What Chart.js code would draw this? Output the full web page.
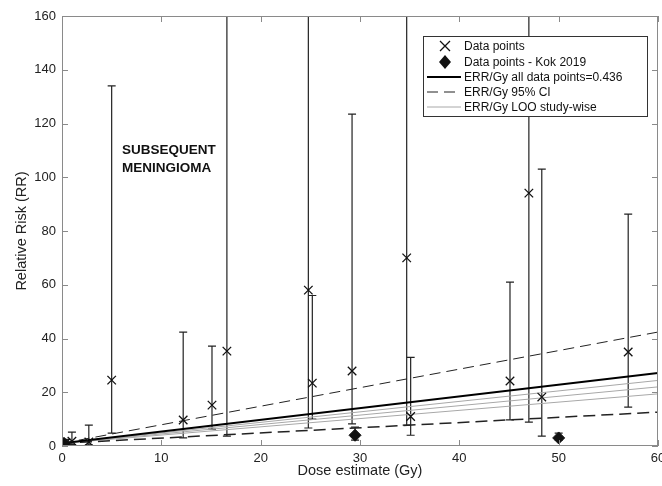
<!DOCTYPE html>
<html>
<head>
<meta charset="utf-8">
<script src="https://cdn.jsdelivr.net/npm/chart.js@4/dist/chart.umd.min.js"></script>
<style>
  html,body{margin:0;padding:0;background:#fff;overflow:hidden;}
  #wrap{width:662px;height:486px;}
</style>
</head>
<body>
<div id="wrap"><canvas id="c" width="662" height="486"></canvas></div>
<script>
// data
const doseX  = [0.4, 1.0, 2.7, 5.0, 12.2, 15.1, 16.6, 24.8, 25.2, 29.2, 34.7, 35.1, 45.1, 47.0, 48.3, 57.0];
const rrVal  = [1.2, 1.8, 1.5, 24.5, 9.7, 15.2, 35.3, 58.0, 23.4, 27.9, 70.0, 11.0, 24.2, 94.1, 18.2, 35.0];
const rrLow  = [0.6, 0.5, 0.4, 4.8, 3.0, 6.3, 3.7, 6.7, 10.0, 8.2, 7.8, 4.0, 9.7, 8.9, 3.7, 14.5];
const rrHigh = [2.5, 5.2, 7.8, 134, 42.4, 37.2, 250, 250, 56.0, 123.5, 250, 33.0, 61.0, 250, 103, 86.3];

const kokX    = [0.2, 29.5, 50.0];
const kokVal  = [1.0, 4.0, 3.0];
const kokLow  = [1.0, 2.2, 2.2];
const kokHigh = [1.0, 7.0, 4.8];

// straight lines, RR at dose 0 and dose 60
const lineX    = [0, 60];
const fitAll   = [1, 27.2];   // ERR/Gy = 0.436
const ciUpper  = [1, 42.4];
const ciLower  = [1, 12.6];
const looLines = [[1, 24.4], [1, 22.0], [1, 19.4]];

const xTicks = [0, 10, 20, 30, 40, 50, 60];
const yTicks = [0, 20, 40, 60, 80, 100, 120, 140, 160];

const FONT = 'Liberation Sans, Arial, Helvetica, sans-serif';
const AXIS = '#8a8a8a';
const PLOT_RIGHT = 658;

function pts(xs, ys){ return xs.map((x,i)=>({x:x, y:ys[i]})); }

const datasets = [
  {label:'Data points', type:'scatter', data:pts(doseX, rrVal), pointStyle:'crossRot', radius:6, borderColor:'#111', borderWidth:1.3, backgroundColor:'#111', order:1},
  {label:'Data points - Kok 2019', type:'scatter', data:pts(kokX, kokVal), pointStyle:'rectRot', radius:6, borderColor:'#111', backgroundColor:'#111', order:0},
  {label:'ERR/Gy all data points=0.436', type:'line', data:pts(lineX, fitAll), borderColor:'#000', borderWidth:2, pointRadius:0, order:2},
  {label:'ERR/Gy 95% CI', type:'line', data:pts(lineX, ciUpper), borderColor:'#222', borderWidth:1, borderDash:[11,6], pointRadius:0, order:3},
  {label:'ERR/Gy 95% CI low', type:'line', data:pts(lineX, ciLower), borderColor:'#222', borderWidth:1.5, borderDash:[12,6], pointRadius:0, order:3}
];
looLines.forEach((l,i)=>datasets.push({label:'ERR/Gy LOO study-wise '+i, type:'line', data:pts(lineX, l), borderColor:'#a8a8a8', borderWidth:1, pointRadius:0, order:4}));

function errBars(ctx, sx, sy, xs, lo, hi){
  ctx.strokeStyle = '#222'; ctx.lineWidth = 1.2;
  xs.forEach((x,i)=>{
    if(hi[i] - lo[i] < 0.1) return;
    const px = sx.getPixelForValue(x);
    const y1 = sy.getPixelForValue(lo[i]);
    const y2 = sy.getPixelForValue(hi[i]);
    ctx.beginPath(); ctx.moveTo(px, y1); ctx.lineTo(px, y2);
    ctx.moveTo(px-4, y1); ctx.lineTo(px+4, y1);
    ctx.moveTo(px-4, y2); ctx.lineTo(px+4, y2);
    ctx.stroke();
  });
}

const extras = {
  id:'extras',
  afterLayout(chart){
    // stretch the plot box to the right edge like the original figure
    const a = chart.chartArea, x = chart.scales.x;
    a.right = PLOT_RIGHT; a.width = a.right - a.left;
    x.right = PLOT_RIGHT; x.width = x.right - x.left;
    x.configure();
  },
  beforeDatasetsDraw(chart){
    const {ctx, chartArea:a, scales:{x, y}} = chart;
    ctx.save();
    ctx.beginPath(); ctx.rect(a.left, a.top, a.right-a.left, a.bottom-a.top); ctx.clip();
    errBars(ctx, x, y, doseX, rrLow, rrHigh);
    errBars(ctx, x, y, kokX, kokLow, kokHigh);
    ctx.restore();
  },
  afterDraw(chart){
    const {ctx, chartArea:a, scales:{x, y}} = chart;
    ctx.save();
    // box
    ctx.strokeStyle = AXIS; ctx.lineWidth = 1;
    ctx.strokeRect(a.left+0.5, a.top+0.5, a.right-a.left-1, a.bottom-a.top-1);
    // inward ticks
    ctx.beginPath();
    xTicks.forEach(v=>{ const p = Math.round(x.getPixelForValue(v))+0.5;
      ctx.moveTo(p, a.bottom); ctx.lineTo(p, a.bottom-6); ctx.moveTo(p, a.top); ctx.lineTo(p, a.top+6); });
    yTicks.forEach(v=>{ const p = Math.round(y.getPixelForValue(v))+0.5;
      ctx.moveTo(a.left, p); ctx.lineTo(a.left+6, p); ctx.moveTo(a.right, p); ctx.lineTo(a.right-6, p); });
    ctx.stroke();

    // annotation
    ctx.fillStyle = '#111';
    ctx.font = 'bold 13.5px ' + FONT;
    ctx.textBaseline = 'middle'; ctx.textAlign = 'left';
    ctx.fillText('SUBSEQUENT', 122, 150);
    ctx.fillText('MENINGIOMA', 122, 168);

    // legend
    const bx = 423, by = 36, bw = 224, bh = 80;
    ctx.fillStyle = '#fff'; ctx.fillRect(bx, by, bw, bh);
    ctx.strokeStyle = '#333'; ctx.lineWidth = 1;
    ctx.strokeRect(bx+0.5, by+0.5, bw, bh);
    const rows = [46, 62, 77, 92, 107];
    const names = ['Data points', 'Data points - Kok 2019', 'ERR/Gy all data points=0.436', 'ERR/Gy 95% CI', 'ERR/Gy LOO study-wise'];
    const sx = 445, l1 = 427, l2 = 461;
    ctx.strokeStyle = '#111'; ctx.lineWidth = 1.3;
    ctx.beginPath(); ctx.moveTo(sx-5, rows[0]-5); ctx.lineTo(sx+5, rows[0]+5); ctx.moveTo(sx+5, rows[0]-5); ctx.lineTo(sx-5, rows[0]+5); ctx.stroke();
    ctx.fillStyle = '#111';
    ctx.beginPath(); ctx.moveTo(sx, rows[1]-7); ctx.lineTo(sx+6, rows[1]); ctx.lineTo(sx, rows[1]+7); ctx.lineTo(sx-6, rows[1]); ctx.closePath(); ctx.fill();
    ctx.lineWidth = 2; ctx.strokeStyle = '#000';
    ctx.beginPath(); ctx.moveTo(l1, rows[2]); ctx.lineTo(l2, rows[2]); ctx.stroke();
    ctx.lineWidth = 1.2; ctx.strokeStyle = '#222'; ctx.setLineDash([11,6]);
    ctx.beginPath(); ctx.moveTo(l1, rows[3]); ctx.lineTo(l2, rows[3]); ctx.stroke();
    ctx.setLineDash([]); ctx.lineWidth = 1; ctx.strokeStyle = '#a8a8a8';
    ctx.beginPath(); ctx.moveTo(l1, rows[4]); ctx.lineTo(l2, rows[4]); ctx.stroke();
    ctx.fillStyle = '#111'; ctx.font = '12px ' + FONT;
    names.forEach((n,i)=>ctx.fillText(n, 464, rows[i]+1));
    ctx.restore();
  }
};

new Chart(document.getElementById('c'), {
  type:'scatter',
  data:{datasets:datasets},
  options:{
    responsive:false, animation:false,
    layout:{padding:{top:16, right:0, left:0, bottom:0}},
    plugins:{legend:{display:false}, tooltip:{enabled:false}},
    scales:{
      x:{
        type:'linear', min:0, max:60,
        afterBuildTicks:s=>{ s.ticks = xTicks.map(v=>({value:v})); },
        afterFit:s=>{ s.height = 40; },
        grid:{display:false, drawTicks:false, tickLength:0},
        border:{display:false},
        ticks:{color:'#222', font:{family:FONT, size:13}, padding:5, maxRotation:0},
        title:{display:true, text:'Dose estimate (Gy)', color:'#222', font:{family:FONT, size:14.5}, padding:{top:0, bottom:6}}
      },
      y:{
        type:'linear', min:0, max:160,
        afterBuildTicks:s=>{ s.ticks = yTicks.map(v=>({value:v})); },
        afterFit:s=>{ s.width = 62; },
        grid:{display:false, drawTicks:false, tickLength:0},
        border:{display:false},
        ticks:{color:'#222', font:{family:FONT, size:13}, padding:6},
        title:{display:true, text:'Relative Risk (RR)', color:'#222', font:{family:FONT, size:14.5}, padding:{top:13, bottom:0}}
      }
    }
  },
  plugins:[extras]
});
</script>
</body>
</html>
